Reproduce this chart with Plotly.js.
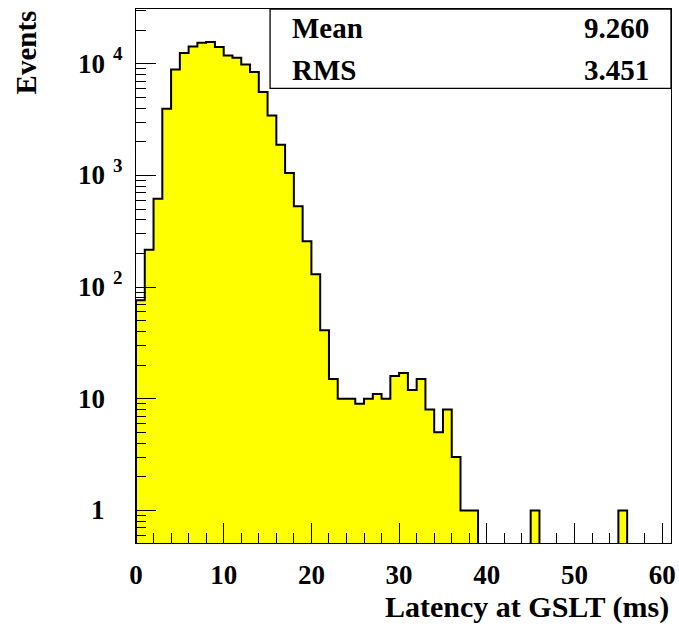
<!DOCTYPE html>
<html>
<head>
<meta charset="utf-8">
<script src="https://cdn.plot.ly/plotly-3.0.1.min.js"></script>
<style>
html,body{margin:0;padding:0;background:#fff;}
#chart{width:679px;height:631px;}
#fontwarm{position:absolute;left:0;top:0;opacity:0;font-family:'Liberation Serif';font-weight:bold;font-size:27px;pointer-events:none;}
</style>
</head>
<body>
<div id="fontwarm">Mean 9.260 RMS 3.451 Events 0123456789</div>
<div id="chart"></div>
<script>
// Histogram: latency at GSLT, 61 bins of 1 ms from 0 to 61
var binEdgesStart = 0;
var binWidth = 1;
var counts = [
  76, 216, 619, 3955, 8890, 12450, 14290, 15420, 15610, 14090,
  11860, 11320, 9860, 8410, 5570, 3445, 1883, 1050, 528, 257,
  130, 41, 15, 10, 10, 9, 10, 11, 10, 16,
  17, 12, 15, 8, 5, 8, 3, 1, 1, 0,
  0, 0, 0, 0, 0, 1, 0, 0, 0, 0,
  0, 0, 0, 0, 0, 1, 0, 0, 0, 0,
  0
];
var statLabels = ['Mean', 'RMS'];
var statValues = ['9.260', '3.451'];
var xTickVals = [0, 10, 20, 30, 40, 50, 60];
var yTickVals = [1, 10, 100, 1000, 10000];
var yTickBase = ['1', '10', '10', '10', '10'];
var yTickExp = ['', '', '2', '3', '4'];
var xTitle = 'Latency at GSLT (ms)';
var yTitle = 'Events';

var floorVal = 0.05; // below visible range, for empty bins
var px = [], py = [];
px.push(binEdgesStart); py.push(floorVal);
for (var i = 0; i < counts.length; i++) {
  var lo = binEdgesStart + i * binWidth, hi = lo + binWidth;
  var v = counts[i] > 0 ? counts[i] : floorVal;
  px.push(lo); py.push(v);
  px.push(hi); py.push(v);
}
px.push(binEdgesStart + counts.length * binWidth); py.push(floorVal);

var FONT = 'Liberation Serif';
var W = 679, H = 631;
var mL = 136, mR = 8.3, mT = 8.5, mB = 88.3;
var pw = W - mL - mR, ph = H - mT - mB;
function pxX(p) { return (p - mL) / pw; }
function pxY(p) { return (H - mB - p) / ph; }

var trace = {
  type: 'scatter', mode: 'lines', x: px, y: py,
  fill: 'toself', fillcolor: '#ffff00',
  line: {color: '#000000', width: 2},
  hoverinfo: 'skip'
};

var ann = [];
// y tick labels
for (var k = 0; k < yTickVals.length; k++) {
  ann.push({xref: 'paper', yref: 'y', x: pxX(107), y: Math.log10(yTickVals[k]),
    xanchor: 'right', yanchor: 'middle', showarrow: false, text: yTickBase[k],
    font: {family: FONT, size: 27, weight: 'bold', color: '#000'}});
  if (yTickExp[k]) {
    ann.push({xref: 'paper', yref: 'y', x: pxX(111), y: Math.log10(yTickVals[k]) + 10 / 111.7,
      xanchor: 'left', yanchor: 'middle', showarrow: false, text: yTickExp[k],
      font: {family: FONT, size: 19, weight: 'bold', color: '#000'}});
  }
}
// axis titles
ann.push({xref: 'paper', yref: 'paper', x: 1, y: pxY(607), xanchor: 'right', yanchor: 'middle',
  showarrow: false, text: xTitle, font: {family: FONT, size: 30, weight: 'bold', color: '#000'}});
ann.push({xref: 'paper', yref: 'paper', x: pxX(26), y: pxY(8), xanchor: 'center', yanchor: 'top',
  textangle: -90, showarrow: false, text: yTitle, font: {family: FONT, size: 29, weight: 'bold', color: '#000'}});
// stats box text
var statY = [28, 70];
for (var s = 0; s < statLabels.length; s++) {
  ann.push({xref: 'paper', yref: 'paper', x: pxX(290), y: pxY(statY[s]), xanchor: 'left', yanchor: 'middle',
    showarrow: false, text: statLabels[s], font: {family: FONT, size: 29, weight: 'bold', color: '#000'}});
  ann.push({xref: 'paper', yref: 'paper', x: pxX(651), y: pxY(statY[s]), xanchor: 'right', yanchor: 'middle',
    showarrow: false, text: statValues[s], font: {family: FONT, size: 29, weight: 'bold', color: '#000'}});
}

var layout = {
  width: W, height: H,
  margin: {l: mL, r: mR, t: mT, b: mB, pad: 0},
  paper_bgcolor: '#fff', plot_bgcolor: '#fff',
  showlegend: false,
  font: {family: FONT, weight: 'bold', color: '#000'},
  xaxis: {
    range: [0, 61], tickmode: 'array', tickvals: xTickVals,
    ticks: 'inside', ticklen: 20, tickwidth: 1, tickcolor: '#000',
    showline: true, linecolor: '#000', linewidth: 1, mirror: true,
    showgrid: false, zeroline: false,
    tickfont: {family: FONT, size: 27, weight: 'bold', color: '#000'},
    ticklabelstandoff: 8,
    minor: {dtick: 2, tick0: 0, ticks: 'inside', ticklen: 10, tickwidth: 1, tickcolor: '#000', showgrid: false}
  },
  yaxis: {
    type: 'log', range: [-0.292, 4.49],
    tickmode: 'array', tickvals: yTickVals, showticklabels: false,
    ticks: 'inside', ticklen: 20, tickwidth: 1, tickcolor: '#000',
    showline: true, linecolor: '#000', linewidth: 1, mirror: true,
    showgrid: false, zeroline: false,
    minor: {dtick: 'D1', ticks: 'inside', ticklen: 10, tickwidth: 1, tickcolor: '#000', showgrid: false}
  },
  shapes: [{type: 'rect', xref: 'paper', yref: 'paper', x0: pxX(270), x1: 1, y0: pxY(88), y1: 1,
    line: {color: '#000', width: 1.3}, fillcolor: '#fff', layer: 'above'}],
  annotations: ann
};

function draw() {
  Plotly.newPlot('chart', [trace], layout, {displayModeBar: false, staticPlot: true});
}
draw();
if (document.fonts && document.fonts.load) {
  document.fonts.load('bold 27px "Liberation Serif"').then(function () { draw(); });
}
</script>
</body>
</html>
